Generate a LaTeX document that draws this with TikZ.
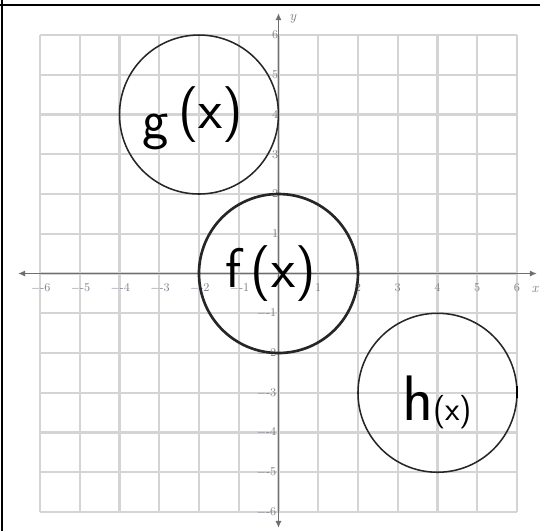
\documentclass[tikz,border=0pt]{standalone}
\usetikzlibrary{arrows.meta}
\definecolor{gridgray}{RGB}{212,212,212}
\definecolor{axisgray}{RGB}{110,110,110}
\definecolor{ticklab}{RGB}{130,125,140}
\begin{document}
\begin{tikzpicture}[x=1cm,y=1cm,
 gridline/.style={draw=gridgray, line width=1.5pt},
 axisline/.style={draw=axisgray, line width=1.3pt, {Latex[length=5pt,width=4.5pt]}-{Latex[length=5pt,width=4.5pt]}},
 ticklabel/.style={text=ticklab, font=\fontsize{8.5}{8.5}\selectfont, inner sep=0pt},
 axlabel/.style={text=ticklab, font=\itshape\fontsize{10}{10}\selectfont, inner sep=0pt},
 ring/.style={circle, draw=black!85, line width=#1, minimum size=4cm, inner sep=0pt},
 hand/.style={font=\sffamily\fontsize{40}{40}\selectfont, inner sep=0pt},
 frame/.style={draw=black, line width=1.8pt}]
\useasboundingbox (-7.006,-6.478) rectangle (6.579,6.881);
\fill[white] (-7.006,-6.478) rectangle (6.579,6.881);
% frame
\coordinate (ftl) at (-7.006,6.755); \coordinate (ftr) at (6.579,6.755);
\coordinate (flt) at (-6.956,6.881); \coordinate (flb) at (-6.956,-6.478);
\draw[frame] (ftl) -- (ftr);
\draw[frame] (flt) -- (flb);
% grid
\draw[gridline] (-6,-6) grid (6,6);
% axes
\coordinate (xl) at (-6.55,0); \coordinate (xr) at (6.5,0);
\coordinate (yb) at (0,-6.4); \coordinate (yt) at (0,6.55);
\draw[axisline] (xl) -- (xr);
\draw[axisline] (yb) -- (yt);
% tick labels
\foreach \i in {-6,...,-1} {\node[ticklabel] (xt\i) at (\i+0.02,-0.36) {$-$\i};}
\foreach \i in {1,...,6} {\node[ticklabel] (xt\i) at (\i,-0.36) {\i};}
\foreach \i in {1,...,6} {\node[ticklabel, anchor=east] (yt\i) at (0.0,\i) {\i};}
\foreach \i in {-6,...,-1} {\node[ticklabel, anchor=east] (yn\i) at (-0.05,\i) {$-$\i};}
\node[axlabel] (ylab) at (0.36,6.4) {y};
\node[axlabel] (xlab) at (6.45,-0.41) {x};
% circles
\node[ring=1.1pt] (gc) at (-2,4) {};
\node[ring=1.9pt] (fc) at (0,0) {};
\node[ring=1.1pt] (hc) at (4,-3) {};
\coordinate (ha) at (6.0,-2.83); \coordinate (hb) at (6.0,-3.13);
\draw[line width=1.6pt] (ha) -- (hb);
% handwritten labels
\node[hand] (gt) at (-2.15,3.9) {g\,\raisebox{7pt}{(x)}};
\node[hand] (ft) at (-0.2,0.0) {f\,(x)};
\node[hand] (ht) at (3.99,-3.25) {\fontsize{46}{46}\selectfont h\fontsize{24}{24}\selectfont(x)};
\end{tikzpicture}
\end{document}
